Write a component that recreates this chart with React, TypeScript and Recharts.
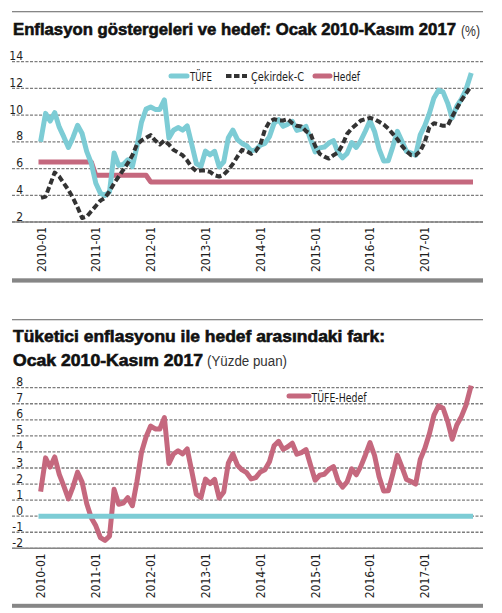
import React from "react";
import {
  LineChart,
  Line,
  XAxis,
  YAxis,
  CartesianGrid,
  Legend,
  ReferenceLine,
} from "recharts";

// x axis labels (one per January) and their month index
const tickLabels = [
  "2010-01", "2011-01", "2012-01", "2013-01",
  "2014-01", "2015-01", "2016-01", "2017-01",
];
const tickIndex = [0, 12, 24, 36, 48, 60, 72, 84];

// TÜFE, annual % change, Jan 2010 - Nov 2017
const tufe = [
  8.19, 10.13, 9.56, 10.19, 9.1, 8.37, 7.58, 8.33, 9.24, 8.62, 7.29, 6.4,
  4.9, 4.16, 3.99, 4.26, 7.17, 6.24, 6.31, 6.65, 6.15, 7.66, 9.48, 10.45,
  10.61, 10.43, 10.43, 11.14, 8.28, 8.87, 9.07, 8.88, 9.19, 7.8, 6.37, 6.16,
  7.31, 7.03, 7.29, 6.13, 6.51, 8.3, 8.88, 8.17, 7.88, 7.71, 7.32, 7.4,
  7.75, 7.89, 8.39, 9.38, 9.66, 9.16, 9.32, 9.54, 8.86, 8.96, 9.15, 8.17,
  7.24, 7.55, 7.61, 7.91, 8.09, 7.2, 6.81, 7.14, 7.95, 7.58, 8.1, 8.81,
  9.58, 8.78, 7.46, 6.57, 6.58, 7.64, 8.79, 8.05, 7.28, 7.16, 7.0, 8.53,
  9.22, 10.13, 11.29, 11.87, 11.72, 10.9, 9.79, 10.68, 11.2, 11.9, 12.98,
];

// Çekirdek-C (core inflation)
const cekirdekC = [
  3.8, 3.9, 4.8, 5.7, 5.4, 4.9, 4.4, 3.8, 3.1, 2.3, 2.4, 2.8,
  3.2, 3.6, 3.8, 4.3, 4.9, 5.4, 5.9, 6.4, 7.0, 7.8, 8.1, 8.3,
  8.5, 8.1, 7.8, 8.1, 7.8, 7.4, 7.2, 7.0, 6.6, 6.1, 5.8, 5.85,
  5.85, 5.75, 5.5, 5.4, 5.55, 5.9, 6.35, 6.9, 7.4, 7.3, 7.1, 7.3,
  7.8, 8.9, 9.5, 9.7, 9.6, 9.6, 9.7, 9.4, 9.2, 9.15, 8.8, 8.6,
  7.7, 7.1, 6.9, 6.75, 7.0, 7.2, 7.8, 8.6, 9.0, 9.3, 9.6, 9.7,
  9.8, 9.7, 9.5, 9.3, 9.0, 8.6, 8.2, 7.7, 7.3, 7.0, 7.0, 7.3,
  8.0, 9.1, 9.4, 9.3, 9.2, 9.2, 9.9, 10.5, 11.1, 11.6, 12.1,
];

// Inflation target
const hedef = [
  6.5, 6.5, 6.5, 6.5, 6.5, 6.5, 6.5, 6.5, 6.5, 6.5, 6.5, 6.5,
  5.5, 5.5, 5.5, 5.5, 5.5, 5.5, 5.5, 5.5, 5.5, 5.5, 5.5, 5.5,
  5, 5, 5, 5, 5, 5, 5, 5, 5, 5, 5, 5,
  5, 5, 5, 5, 5, 5, 5, 5, 5, 5, 5, 5,
  5, 5, 5, 5, 5, 5, 5, 5, 5, 5, 5, 5,
  5, 5, 5, 5, 5, 5, 5, 5, 5, 5, 5, 5,
  5, 5, 5, 5, 5, 5, 5, 5, 5, 5, 5, 5,
  5, 5, 5, 5, 5, 5, 5, 5, 5, 5, 5,
];

// TÜFE-Hedef gap (percentage points)
const tufeHedef = [
  1.69, 3.63, 3.06, 3.69, 2.6, 1.87, 1.08, 1.83, 2.74, 2.12, 0.79, -0.1,
  -0.6, -1.34, -1.51, -1.24, 1.67, 0.74, 0.81, 1.15, 0.65, 2.16, 3.98, 4.95,
  5.61, 5.43, 5.43, 6.14, 3.28, 3.87, 4.07, 3.88, 4.19, 2.8, 1.37, 1.16,
  2.31, 2.03, 2.29, 1.13, 1.51, 3.3, 3.88, 3.17, 2.88, 2.71, 2.32, 2.4,
  2.75, 2.89, 3.39, 4.38, 4.66, 4.16, 4.32, 4.54, 3.86, 3.96, 4.15, 3.17,
  2.24, 2.55, 2.61, 2.91, 3.09, 2.2, 1.81, 2.14, 2.95, 2.58, 3.1, 3.81,
  4.58, 3.78, 2.46, 1.57, 1.58, 2.64, 3.79, 3.05, 2.28, 2.16, 2.0, 3.53,
  4.22, 5.13, 6.29, 6.87, 6.72, 5.9, 4.79, 5.68, 6.2, 6.9, 7.98,
];

const topTicks = [2, 4, 6, 8, 10, 12, 14];
const bottomTicks = [-2, -1, 0, 1, 2, 3, 4, 5, 6, 7, 8];

const CYAN = "#7dccd5";
const PINK = "#c5687e";
const DARK = "#333333";
const GRID = "#7d7d7d";
const RULE = "#868686";
const TEXT = "#1e1e1e";

const TITLE_FONT = "'Liberation Sans', Arial, sans-serif";
const NARROW = "'DejaVu Sans Condensed', 'Liberation Sans', sans-serif";
const LABEL_FONT = "'DejaVu Sans Condensed', 'DejaVu Sans', sans-serif";

const topData = tufe.map((v, i) => ({
  i,
  tufe: v,
  cekirdek: cekirdekC[i],
  hedef: hedef[i],
}));
const bottomData = tufeHedef.map((v, i) => ({ i, fark: v }));

const XTick = (props: any) => {
  const { x, y, payload } = props;
  const label = tickLabels[tickIndex.indexOf(payload.value)];
  const bx = x + 4.5;
  return (
    <text
      x={bx}
      y={y}
      transform={`rotate(-90 ${bx} ${y})`}
      textAnchor="end"
      fontSize={13}
      fontFamily={LABEL_FONT}
      textLength={45}
      lengthAdjust="spacingAndGlyphs"
      fill={TEXT}
    >
      {label}
    </text>
  );
};

const YTick = (props: any) => {
  const { y, payload } = props;
  return (
    <text
      x={23}
      y={y - 1.5}
      textAnchor="end"
      fontSize={12}
      fontFamily={NARROW}
      fill={TEXT}
    >
      {payload.value}
    </text>
  );
};

const legendText = {
  fontSize: 12,
  fontFamily: NARROW,
  fill: TEXT,
  lengthAdjust: "spacingAndGlyphs" as const,
};

const TopLegend = () => (
  <svg width={502} height={100} style={{ display: "block" }}>
    <line x1={171} x2={187} y1={76} y2={76} stroke={CYAN} strokeWidth={5} strokeLinecap="round" />
    <text x={190} y={80.5} textLength={22} {...legendText}>TÜFE</text>
    <line x1={226} x2={247} y1={76} y2={76} stroke={DARK} strokeWidth={4} strokeDasharray="5.5 2.5" />
    <text x={251} y={80.5} textLength={53} {...legendText}>Çekirdek-C</text>
    <line x1={315} x2={330} y1={76} y2={76} stroke={PINK} strokeWidth={5} strokeLinecap="round" />
    <text x={333} y={80.5} textLength={27} {...legendText}>Hedef</text>
  </svg>
);

const BottomLegend = () => (
  <svg width={502} height={100} style={{ display: "block" }}>
    <line x1={289} x2={309} y1={86} y2={86} stroke={PINK} strokeWidth={5} strokeLinecap="round" />
    <text x={311.5} y={91.5} textLength={55} {...legendText}>TÜFE-Hedef</text>
  </svg>
);

const legendWrap = { position: "absolute" as const, left: 0, top: 0, width: 502, height: 100 };

const titleProps = {
  fontSize: 16.8,
  fontWeight: 700,
  fontFamily: TITLE_FONT,
  fill: "#111",
  stroke: "#111",
  strokeWidth: 0.6,
  lengthAdjust: "spacingAndGlyphs" as const,
};

const subProps = {
  fontSize: 14,
  fontFamily: TITLE_FONT,
  fill: "#333",
  lengthAdjust: "spacingAndGlyphs" as const,
};

export default function App() {
  return (
    <div
      style={{
        position: "absolute",
        left: 0,
        top: 0,
        width: 502,
        height: 613,
        background: "#fff",
        overflow: "hidden",
      }}
    >
      <svg width={502} height={613} style={{ position: "absolute", left: 0, top: 0 }}>
        <rect x={12} y={11} width={471} height={1.3} fill={RULE} />
        <text x={13} y={35} textLength={443} {...titleProps}>
          Enflasyon göstergeleri ve hedef: Ocak 2010-Kasım 2017
        </text>
        <text x={461} y={36} textLength={19} {...subProps}>
          (%)
        </text>
        <rect x={12} y={278.3} width={471} height={4.3} fill={RULE} />

        <rect x={12} y={319} width={471} height={1.3} fill={RULE} />
        <text x={13} y={342.3} textLength={372} {...titleProps}>
          Tüketici enflasyonu ile hedef arasındaki fark:
        </text>
        <text x={13} y={366} textLength={190} {...titleProps}>
          Ocak 2010-Kasım 2017
        </text>
        <text x={207} y={366} textLength={80} {...subProps}>
          (Yüzde puan)
        </text>
        <rect x={12} y={603.8} width={471} height={4} fill={RULE} />
      </svg>

      <div style={{ position: "absolute", left: 0, top: 0 }}>
        <LineChart
          width={502}
          height={285}
          data={topData}
          margin={{ top: 61.7, right: 19, bottom: 5, left: 11 }}
        >
          <CartesianGrid
            vertical={false}
            stroke={GRID}
            strokeWidth={1.3}
            strokeDasharray="3 1.5"
          />
          <XAxis
            dataKey="i"
            type="number"
            domain={[0, 94]}
            ticks={tickIndex}
            padding={{ left: 29, right: 12.5 }}
            height={58}
            tickSize={0}
            tickMargin={5}
            tickLine={false}
            axisLine={{ stroke: RULE, strokeWidth: 1.5 }}
            tick={<XTick />}
            interval={0}
          />
          <YAxis
            type="number"
            domain={[2, 14]}
            ticks={topTicks}
            width={1}
            axisLine={false}
            tickLine={false}
            tick={<YTick />}
            interval={0}
          />
          <Legend
            layout="horizontal"
            verticalAlign="middle"
            align="center"
            wrapperStyle={legendWrap}
            content={() => <TopLegend />}
          />
          <Line
            dataKey="hedef"
            name="Hedef"
            type="linear"
            stroke={PINK}
            strokeWidth={5}
            strokeLinecap="square"
            strokeLinejoin="round"
            dot={false}
            activeDot={false}
            isAnimationActive={false}
          />
          <Line
            dataKey="tufe"
            name="TÜFE"
            type="linear"
            stroke={CYAN}
            strokeWidth={5}
            strokeLinecap="square"
            strokeLinejoin="round"
            dot={false}
            activeDot={false}
            isAnimationActive={false}
          />
          <Line
            dataKey="cekirdek"
            name="Çekirdek-C"
            type="linear"
            stroke={DARK}
            strokeWidth={4}
            strokeDasharray="6 3"
            strokeLinejoin="round"
            dot={false}
            activeDot={false}
            isAnimationActive={false}
          />
        </LineChart>
      </div>

      <div style={{ position: "absolute", left: 0, top: 310 }}>
        <LineChart
          width={502}
          height={300}
          data={bottomData}
          margin={{ top: 77.7, right: 19, bottom: 6.7, left: 11 }}
        >
          <CartesianGrid
            vertical={false}
            stroke={GRID}
            strokeWidth={1.3}
            strokeDasharray="3 1.5"
          />
          <XAxis
            dataKey="i"
            type="number"
            domain={[0, 94]}
            ticks={tickIndex}
            padding={{ left: 29, right: 12.5 }}
            height={55}
            tickSize={0}
            tickMargin={5}
            tickLine={false}
            axisLine={{ stroke: RULE, strokeWidth: 1.5 }}
            tick={<XTick />}
            interval={0}
          />
          <YAxis
            type="number"
            domain={[-2, 8]}
            ticks={bottomTicks}
            width={1}
            axisLine={false}
            tickLine={false}
            tick={<YTick />}
            interval={0}
          />
          <Legend
            layout="horizontal"
            verticalAlign="middle"
            align="center"
            wrapperStyle={legendWrap}
            content={() => <BottomLegend />}
          />
          <Line
            dataKey="fark"
            name="TÜFE-Hedef"
            type="linear"
            stroke={PINK}
            strokeWidth={5}
            strokeLinecap="square"
            strokeLinejoin="round"
            dot={false}
            activeDot={false}
            isAnimationActive={false}
          />
          <ReferenceLine
            segment={[
              { x: 0, y: 0 },
              { x: 94, y: 0 },
            ]}
            stroke={CYAN}
            strokeWidth={5}
            strokeLinecap="square"
            ifOverflow="visible"
          />
        </LineChart>
      </div>
    </div>
  );
}
